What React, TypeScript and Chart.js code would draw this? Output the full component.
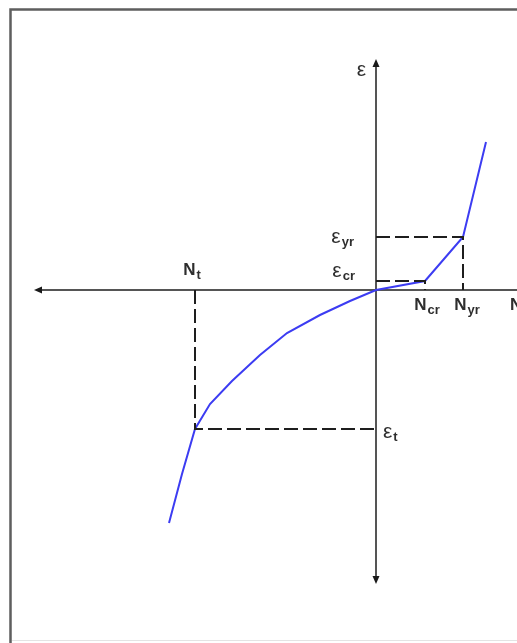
import React, { useEffect, useRef } from "react";
import { Chart, registerables } from "chart.js";

Chart.register(...registerables);

// Axial force N vs. strain ε (schematic units)
const N_CR = 4.9;
const N_YR = 8.7;
const N_T = -18.1;
const EPS_CR = 0.9;
const EPS_YR = 5.3;
const EPS_T = -13.9;

// Response curve, from tension branch (left) to compression branch (right)
const curveN = [-20.7, -19.4, N_T, -16.6, -14.4, -11.6, -8.9, -5.6, -2.6, 0, N_CR, N_YR, 11.0];
const curveEps = [-23.3, -18.4, EPS_T, -11.4, -9.1, -6.5, -4.3, -2.5, -1.1, 0, EPS_CR, EPS_YR, 14.8];

// Visible window and axis extents
const N_MIN = -37.6;
const N_MAX = 14.1;
const EPS_MIN = -35.3;
const EPS_MAX = 29.0;
const AXIS_N_LEFT = -34.1;
const AXIS_N_RIGHT = 16;
const AXIS_EPS_TOP = 23.0;
const AXIS_EPS_BOTTOM = -29.3;
const N_LABEL_POS = 13.6;

const W = 517;
const H = 643;

const pts = (xs: number[], ys: number[]) => xs.map((x, i) => ({ x, y: ys[i] }));

const dashed = (data: { x: number; y: number }[]) => ({
  data,
  borderColor: "#1e1e1e",
  borderWidth: 2,
  borderDash: [14, 5],
  pointRadius: 0,
  tension: 0,
  fill: false,
});

const FONT = "Liberation Sans, Arial, sans-serif";
const TEXT = "#2e2e2e";

function drawLabel(
  ctx: CanvasRenderingContext2D,
  main: string,
  sub: string,
  x: number,
  y: number,
  align: "left" | "center" | "right"
) {
  ctx.save();
  ctx.fillStyle = TEXT;
  ctx.textBaseline = "middle";
  ctx.textAlign = "left";
  const mainFont = main === "ε" ? `21px ${FONT}` : `bold 17px ${FONT}`;
  const subFont = `bold 13px ${FONT}`;
  ctx.font = mainFont;
  const wMain = ctx.measureText(main).width;
  ctx.font = subFont;
  const wSub = sub ? ctx.measureText(sub).width + 1 : 0;
  const total = wMain + wSub;
  let left = x;
  if (align === "center") left = x - total / 2;
  if (align === "right") left = x - total;
  ctx.font = mainFont;
  ctx.fillText(main, left, y);
  if (sub) {
    ctx.font = subFont;
    ctx.fillText(sub, left + wMain + 1, y + 5);
  }
  ctx.restore();
}

function arrow(ctx: CanvasRenderingContext2D, x: number, y: number, dir: "up" | "down" | "left" | "right") {
  const s = 7;
  const h = 3.5;
  ctx.beginPath();
  if (dir === "up") {
    ctx.moveTo(x, y - 1);
    ctx.lineTo(x - h, y + s);
    ctx.lineTo(x + h, y + s);
  } else if (dir === "down") {
    ctx.moveTo(x, y + 1);
    ctx.lineTo(x - h, y - s);
    ctx.lineTo(x + h, y - s);
  } else if (dir === "left") {
    ctx.moveTo(x - 1, y);
    ctx.lineTo(x + s, y - h);
    ctx.lineTo(x + s, y + h);
  } else {
    ctx.moveTo(x + 1, y);
    ctx.lineTo(x - s, y - h);
    ctx.lineTo(x - s, y + h);
  }
  ctx.closePath();
  ctx.fill();
}

const framePlugin = {
  id: "frame",
  beforeDatasetsDraw(chart: any) {
    const ctx: CanvasRenderingContext2D = chart.ctx;
    const xs = chart.scales.x;
    const ys = chart.scales.y;
    const x0 = xs.getPixelForValue(0);
    const y0 = ys.getPixelForValue(0);

    ctx.save();
    // outer frame
    ctx.strokeStyle = "#5e5e5e";
    ctx.lineWidth = 2.5;
    ctx.strokeRect(10.5, 9.5, chart.width + 20, chart.height + 20);
    ctx.strokeStyle = "#e4e4e4";
    ctx.lineWidth = 1;
    ctx.beginPath();
    ctx.moveTo(12, chart.height - 2.5);
    ctx.lineTo(chart.width, chart.height - 2.5);
    ctx.stroke();

    // axes
    ctx.strokeStyle = "#555555";
    ctx.fillStyle = "#1a1a1a";
    ctx.lineWidth = 2;
    const yTop = ys.getPixelForValue(AXIS_EPS_TOP);
    const yBot = ys.getPixelForValue(AXIS_EPS_BOTTOM);
    const xL = xs.getPixelForValue(AXIS_N_LEFT);
    const xR = xs.getPixelForValue(AXIS_N_RIGHT);
    ctx.beginPath();
    ctx.moveTo(x0, yTop + 2);
    ctx.lineTo(x0, yBot - 2);
    ctx.moveTo(xL + 2, y0);
    ctx.lineTo(xR, y0);
    ctx.stroke();
    arrow(ctx, x0, yTop, "up");
    arrow(ctx, x0, yBot, "down");
    arrow(ctx, xL, y0, "left");
    arrow(ctx, xR, y0, "right");
    ctx.restore();
  },
  afterDatasetsDraw(chart: any) {
    const ctx: CanvasRenderingContext2D = chart.ctx;
    const xs = chart.scales.x;
    const ys = chart.scales.y;
    const x0 = xs.getPixelForValue(0);
    const y0 = ys.getPixelForValue(0);

    drawLabel(ctx, "ε", "", x0 - 10, ys.getPixelForValue(AXIS_EPS_TOP) + 10, "right");
    drawLabel(ctx, "ε", "yr", x0 - 22, ys.getPixelForValue(EPS_YR), "right");
    drawLabel(ctx, "ε", "cr", x0 - 21, ys.getPixelForValue(EPS_CR) - 10, "right");
    drawLabel(ctx, "ε", "t", x0 + 7, ys.getPixelForValue(EPS_T) + 3, "left");
    drawLabel(ctx, "N", "t", xs.getPixelForValue(N_T) - 3, y0 - 20, "center");
    drawLabel(ctx, "N", "cr", xs.getPixelForValue(N_CR) + 2, y0 + 15, "center");
    drawLabel(ctx, "N", "yr", xs.getPixelForValue(N_YR) + 4, y0 + 15, "center");
    drawLabel(ctx, "N", "", xs.getPixelForValue(N_LABEL_POS) - 2, y0 + 15, "left");
  },
};

export default function App() {
  const ref = useRef<HTMLCanvasElement | null>(null);

  useEffect(() => {
    if (!ref.current) return;
    const chart = new Chart(ref.current, {
      type: "line",
      data: {
        datasets: [
          dashed(pts([N_T, N_T, 0], [0, EPS_T, EPS_T])),
          dashed(pts([0, N_CR, N_CR], [EPS_CR, EPS_CR, 0])),
          dashed(pts([0, N_YR, N_YR], [EPS_YR, EPS_YR, 0])),
          {
            data: pts(curveN, curveEps),
            borderColor: "#3c3cf2",
            borderWidth: 2,
            pointRadius: 0,
            tension: 0,
            fill: false,
          },
        ],
      },
      options: {
        animation: false,
        responsive: false,
        layout: { padding: 0 },
        plugins: { legend: { display: false }, tooltip: { enabled: false } },
        scales: {
          x: { type: "linear", min: N_MIN, max: N_MAX, display: false },
          y: { type: "linear", min: EPS_MIN, max: EPS_MAX, display: false },
        },
      },
      plugins: [framePlugin],
    });
    return () => chart.destroy();
  }, []);

  return (
    <div style={{ position: "fixed", left: 0, top: 0, width: W, height: H, background: "#fff" }}>
      <canvas ref={ref} width={W} height={H} style={{ display: "block", width: W, height: H }} />
    </div>
  );
}
